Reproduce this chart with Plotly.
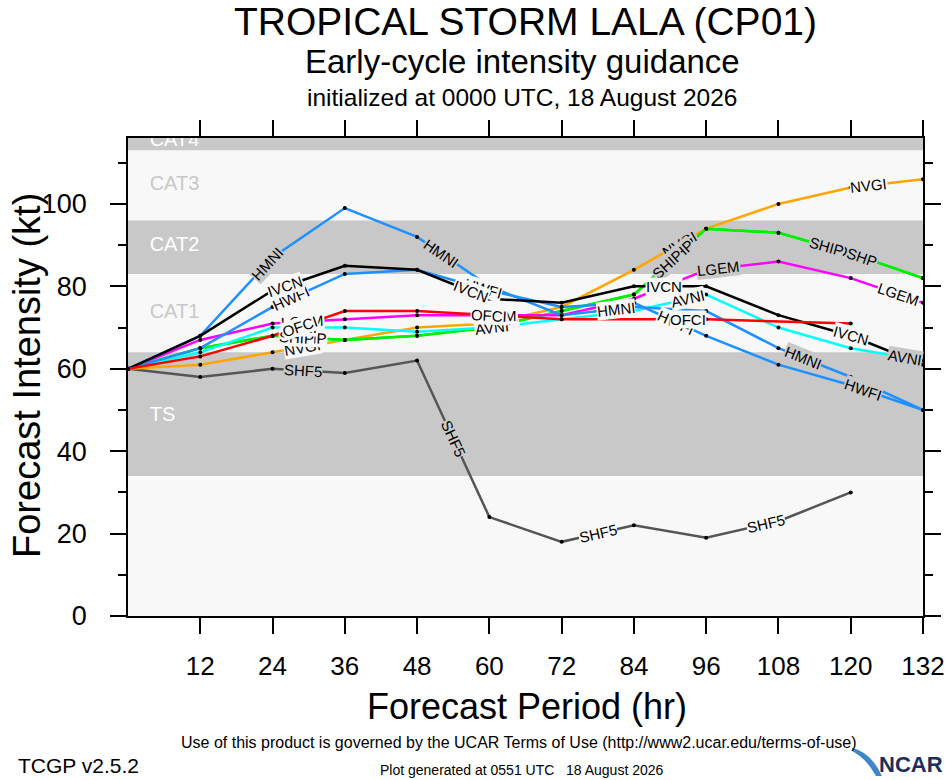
import numpy as np
import plotly.graph_objects as go

# forecast hours and model intensities (kt)
hours = [0, 12, 24, 36, 48, 60, 72, 84, 96, 108, 120, 132]

hmni = [60, 68, 87, 99, 92, 80, 73, 75, 74, 65, 58, 50]
ivcn = [60, 68, 79, 85, 84, 77, 76, 80, 80, 73, 68, 61]
hwfi = [60, 65, 75, 83, 84, 79, 75, 76, 68, 61, 56, 50]
lgem = [60, 67, 71, 72, 73, 73, 73, 77, 84, 86, 82, 76]
avni = [60, 64, 70, 70, 69, 70, 72, 74, 78, 70, 65, 62]
ofci = [60, 63, 68, 74, 74, 73, 72, None, 72, None, 71, None]
ship = [60, 65, 68, 67, 68, 70, 74, 78, 94, 93, 88, 82]
dshp = [60, 65, 68, 67, 68, 70, 74, 78, 94, 93, 88, 82]
nvgi = [60, 61, 64, 67, 70, 71, 75, 84, 94, 100, 104, 106]
shf5 = [60, 58, 60, 59, 62, 24, 18, 22, 19, 23, 30, None]

# intensity categories
band_names = ["TS", "CAT1", "CAT2", "CAT3", "CAT4"]
band_lo = [34, 64, 83, 96, 113]
band_hi = [64, 83, 96, 113, 137]

GRAY = "#c8c8c8"
LIGHT = "#f8f8f8"
FONT = "Liberation Sans, Arial, sans-serif"

# name, values, colour, hours where the line label sits
models = [
    ("SHF5", shf5, "#555555", [29, 54, 78, 106]),
    ("NVGI", nvgi, "#ffa500", [29, 61, 91.5, 123]),
    ("DSHP", dshp, "#00ee00", [29.5, 61.5, 91, 121]),
    ("SHIP", ship, "#00ee00", [28, 61, 89.5, 116]),
    ("AVNI", avni, "#00ffff", [28.5, 60.5, 93, 129]),
    ("LGEM", lgem, "#ff00ff", [29, 61, 98, 128]),
    ("HWFI", hwfi, "#1e90ff", [27, 59, 91, 122]),
    ("HMNI", hmni, "#1e90ff", [23, 52, 81, 112]),
    ("IVCN", ivcn, "#000000", [26, 57, 89, 120]),
    ("OFCI", ofci, "#ff0000", [28.5, 60, 93]),
]

X_MAX, Y_MAX = 132, 116
L, R, T, B = 128, 23, 138, 164
W, H = 946, 780
plot_w, plot_h = W - L - R, H - T - B
kx, ky = plot_w / X_MAX, plot_h / Y_MAX


def band_color(v):
    for i, (lo, hi) in enumerate(zip(band_lo, band_hi)):
        if lo <= v < hi:
            return GRAY if i % 2 == 0 else LIGHT
    return LIGHT


def paper(px, py):
    # pixel -> paper coords
    return (px - L) / plot_w, (H - B - py) / plot_h


fig = go.Figure()

# category bands
for i, (lo, hi) in enumerate(zip(band_lo, band_hi)):
    if i % 2 == 0:
        fig.add_shape(type="rect", xref="x", yref="y", x0=0, x1=X_MAX, y0=lo, y1=hi,
                      fillcolor=GRAY, line_width=0, layer="below")

band_label_y = [48.5, 73.5, 89.7, 104.7, 115.3]
band_label_col = ["white" if i % 2 == 0 else "#c8c8c8" for i in range(5)]
fig.add_trace(go.Scatter(
    x=[3.6] * 5, y=band_label_y, text=band_names, mode="text",
    textposition="middle right", cliponaxis=True, hoverinfo="skip",
    textfont=dict(family=FONT, size=20, color=band_label_col), showlegend=False))

# model lines
for name, vals, col, lab_hours in models:
    h = [t for t, v in zip(hours, vals) if v is not None]
    v = [v for v in vals if v is not None]
    fig.add_trace(go.Scatter(
        x=h, y=v, mode="lines+markers", name=name,
        line=dict(color=col, width=2.5),
        marker=dict(color="black", size=4), showlegend=False))
    for t in lab_hours:
        yv = float(np.interp(t, h, v))
        j = max(min(np.searchsorted(h, t) - 1, len(h) - 2), 0)
        slope = (v[j + 1] - v[j]) / (h[j + 1] - h[j])
        ang = -np.degrees(np.arctan(slope * ky / kx))
        fig.add_annotation(x=t, y=yv, text=name, showarrow=False, textangle=ang,
                           font=dict(family=FONT, size=15, color="black"),
                           bgcolor=band_color(yv), borderpad=0)

# header / footer text (pixel positions)
texts = [
    ("TROPICAL STORM LALA (CP01)", 525, 22, 39, "center"),
    ("Early-cycle intensity guidance", 522, 62, 33, "center"),
    ("initialized at 0000 UTC, 18 August 2026", 522, 97, 24.5, "center"),
    ("Forecast Period (hr)", 527, 706, 36, "center"),
    ("Use of this product is governed by the UCAR Terms of Use (http://www2.ucar.edu/terms-of-use)",
     519, 742, 16, "center"),
    ("TCGP v2.5.2", 16, 765, 21, "left"),
    ("Plot generated at 0551 UTC   18 August 2026", 522, 770, 14, "center"),
]
for txt, px, py, size, align in texts:
    xp, yp = paper(px, py)
    fig.add_annotation(x=xp, y=yp, xref="paper", yref="paper", text=txt,
                       showarrow=False, xanchor=align, yanchor="middle",
                       font=dict(family=FONT, size=size, color="black"))

xp, yp = paper(27, 376)
fig.add_annotation(x=xp, y=yp, xref="paper", yref="paper", text="Forecast Intensity (kt)",
                   showarrow=False, textangle=-90, xanchor="center", yanchor="middle",
                   font=dict(family=FONT, size=38, color="black"))

# NCAR logo
xp, yp = paper(944, 764)
fig.add_annotation(x=xp, y=yp, xref="paper", yref="paper", text="<b>NCAR</b>",
                   showarrow=False, xanchor="right", yanchor="middle", borderpad=0,
                   font=dict(family=FONT, size=22, color="#1b2f5e"))
pts = [paper(852, 748), paper(871, 752), paper(882, 776), paper(876, 776), paper(866, 758), paper(852, 751)]
path = "M {:.4f},{:.4f} Q {:.4f},{:.4f} {:.4f},{:.4f} L {:.4f},{:.4f} Q {:.4f},{:.4f} {:.4f},{:.4f} Z".format(
    *pts[0], *pts[1], *pts[2], *pts[3], *pts[4], *pts[5])
fig.add_shape(type="path", xref="paper", yref="paper", path=path,
              fillcolor="#3f86c8", line_width=0)

fig.update_xaxes(range=[0, X_MAX], tickvals=list(range(12, 133, 12)),
                 ticks="outside", ticklen=16, tickwidth=1.5, tickcolor="black",
                 showline=True, linecolor="black", linewidth=1.5, mirror="ticks",
                 showgrid=False, zeroline=False, ticklabelstandoff=10, automargin=False,
                 tickfont=dict(family=FONT, size=26, color="black"))
fig.update_yaxes(range=[0, Y_MAX], tickvals=list(range(0, 101, 20)),
                 ticks="outside", ticklen=16, tickwidth=1.5, tickcolor="black",
                 minor=dict(tickvals=list(range(10, 111, 20)), ticks="outside",
                            ticklen=8, tickwidth=1.5, tickcolor="black"),
                 showline=True, linecolor="black", linewidth=1.5, mirror="ticks",
                 showgrid=False, zeroline=False, ticklabelstandoff=18, automargin=False,
                 tickfont=dict(family=FONT, size=27, color="black"))

fig.update_layout(width=W, height=H, margin=dict(l=L, r=R, t=T, b=B, autoexpand=False),
                  plot_bgcolor=LIGHT, paper_bgcolor="white", showlegend=False)

# drop the default page margin so the figure fills the window exactly
fig.write_html("out.html", config={"displayModeBar": False},
               post_script="document.body.style.margin='0';")
